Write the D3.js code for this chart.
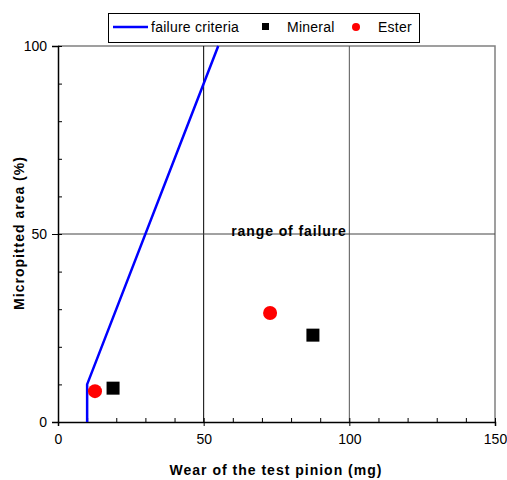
<!DOCTYPE html>
<html><head><meta charset="utf-8">
<script src="https://cdn.jsdelivr.net/npm/d3@7"></script>
<style>body{margin:0;background:#fff;}svg{display:block;font-family:"Liberation Sans",Arial,sans-serif;}</style>
</head><body><svg id="c" width="507" height="480"></svg>
<script>
const failureX = [10, 10, 55];
const failureY = [0, 10, 100];
const mineralX = [18.9, 87.5];
const mineralY = [9.0, 23.1];
const esterX = [12.7, 72.8];
const esterY = [8.2, 29.0];
const xTicks = [0, 50, 100, 150];
const yTicks = [0, 50, 100];
const annotation = {text: "range of failure", x: 79.3, y: 49.5};

const svg = d3.select("#c");
const L = 58, R = 495, T = 46, B = 422;
const x = d3.scaleLinear().domain([0,150]).range([L,R]);
const y = d3.scaleLinear().domain([0,100]).range([B,T]);

// border top/right
svg.append("path").attr("d",`M${L},${T}H${R}V${B}`).attr("fill","none").attr("stroke","#808080").attr("stroke-width",1.5);
// grid
[50,100].forEach(v=>svg.append("line").attr("x1",x(v)).attr("x2",x(v)).attr("y1",T).attr("y2",B).attr("stroke",v===50?"#000":"#555").attr("stroke-width",1));
svg.append("line").attr("x1",L).attr("x2",R).attr("y1",y(50)).attr("y2",y(50)).attr("stroke","#444").attr("stroke-width",1);

// axes
const xAxis = svg.append("g").attr("transform",`translate(0,${B})`)
  .call(d3.axisBottom(x).tickValues(xTicks).tickSize(4).tickPadding(8).tickFormat(d3.format("d")));
const xMinor = svg.append("g").attr("transform",`translate(0,${B})`)
  .call(d3.axisTop(x).tickValues(d3.range(0,151,10)).tickSize(4).tickFormat(""));
const yAxis = svg.append("g").attr("transform",`translate(${L},0)`)
  .call(d3.axisLeft(y).tickValues(yTicks).tickSize(6).tickPadding(5).tickFormat(d3.format("d")));
const yMinor = svg.append("g").attr("transform",`translate(${L},0)`)
  .call(d3.axisRight(y).tickValues(d3.range(0,101,10)).tickSize(4).tickFormat(""));
[xAxis,yAxis,xMinor,yMinor].forEach(g=>{
  g.select(".domain").attr("stroke","#000").attr("stroke-width",1.5);
  g.selectAll(".tick line").attr("stroke","#000");
  g.selectAll("text").attr("font-size",14).attr("fill","#000").attr("font-family","Liberation Sans, Arial, sans-serif");
});
xMinor.select(".domain").remove(); yMinor.select(".domain").remove();

// titles
svg.append("text").attr("x",276).attr("y",475).attr("text-anchor","middle").attr("font-size",14).attr("font-weight","bold").attr("letter-spacing","1px").text("Wear of the test pinion (mg)");
svg.append("text").attr("transform",`translate(24,233) rotate(-90)`).attr("text-anchor","middle").attr("font-size",14).attr("font-weight","bold").attr("letter-spacing","1px").text("Micropitted area (%)");

// failure line
const line = d3.line().x(d=>x(d[0])).y(d=>y(d[1]));
svg.append("path").datum(failureX.map((v,i)=>[v,failureY[i]])).attr("d",line).attr("fill","none").attr("stroke","#0000ff").attr("stroke-width",2.5);

// mineral squares
svg.selectAll(".m").data(mineralX.map((v,i)=>[v,mineralY[i]])).join("rect")
  .attr("x",d=>x(d[0])-6.5).attr("y",d=>y(d[1])-6.5).attr("width",13).attr("height",13).attr("fill","#000");
// ester circles
svg.selectAll(".e").data(esterX.map((v,i)=>[v,esterY[i]])).join("circle")
  .attr("cx",d=>x(d[0])).attr("cy",d=>y(d[1])).attr("r",7).attr("fill","#ff0000");

// annotation
svg.append("text").attr("x",x(annotation.x)).attr("y",y(annotation.y)).attr("text-anchor","middle").attr("font-size",14).attr("font-weight","bold").attr("letter-spacing","0.9px").text(annotation.text);

// legend
const lg = svg.append("g");
lg.append("rect").attr("x",108.5).attr("y",13.5).attr("width",311).attr("height",29).attr("fill","#fff").attr("stroke","#000").attr("stroke-width",1);
lg.append("line").attr("x1",113).attr("x2",148).attr("y1",27).attr("y2",27).attr("stroke","#0000ff").attr("stroke-width",2.5);
lg.append("text").attr("x",151).attr("y",32).attr("font-size",14).attr("letter-spacing","0.25px").text("failure criteria");
lg.append("rect").attr("x",262).attr("y",23).attr("width",7).attr("height",7).attr("fill","#000");
lg.append("text").attr("x",287).attr("y",32).attr("font-size",14).attr("letter-spacing","0.25px").text("Mineral");
lg.append("circle").attr("cx",356).attr("cy",27).attr("r",4).attr("fill","#ff0000");
lg.append("text").attr("x",378).attr("y",32).attr("font-size",14).attr("letter-spacing","0.25px").text("Ester");
</script></body></html>
